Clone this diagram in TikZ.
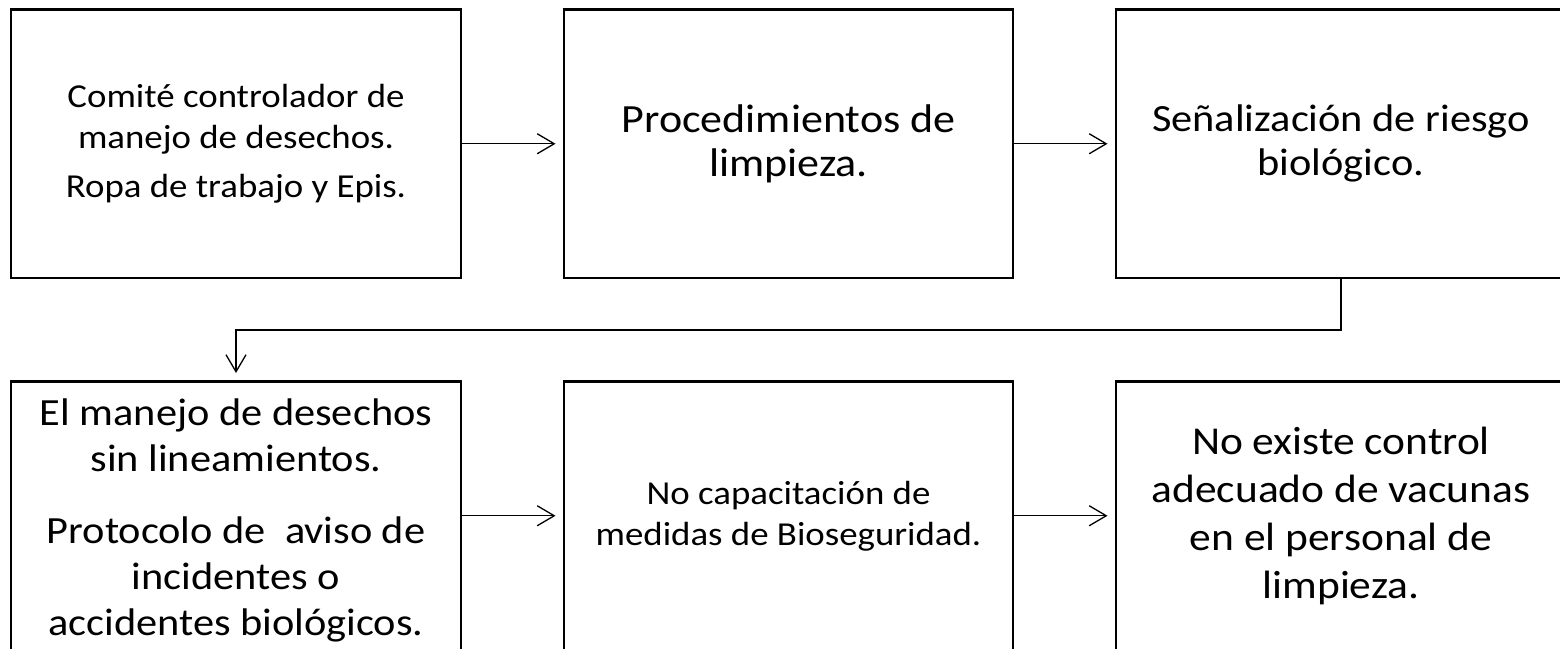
\documentclass[tikz,border=0pt]{standalone}
\usepackage{fontspec}
\setmainfont{Carlito}[FakeStretch=1.1]
\usetikzlibrary{arrows.meta}
\tikzset{
  boxnode/.style={draw=black, line width=2.7pt, rectangle, outer sep=0pt,
    inner sep=0pt, minimum height=268.5pt, align=center},
  smalltext/.style={font=\fontsize{33.5}{41}\selectfont},
  conn/.style={draw=black, line width=1.3pt,
    -{Straight Barb[length=17pt,width=20pt,line width=1.3pt]}, shorten >=8.5pt}
}
\begin{document}
\begin{tikzpicture}[x=1pt,y=-1pt]
\clip (0,0) rectangle (1560,648);
\fill[white] (0,0) rectangle (1560,648);
\node[boxnode, smalltext, minimum width=450pt] (b1) at (236,143.75)
  {Comité controlador de\\manejo de desechos.\\[8pt]Ropa de trabajo y Epis.};
\node[boxnode, font=\fontsize{40}{44}\selectfont, minimum width=449pt] (b2) at (788.5,143.75)
  {Procedimientos de\\limpieza.};
\node[boxnode, font=\fontsize{38.5}{44}\selectfont, minimum width=450pt] (b3) at (1341,143.75)
  {Señalización de riesgo\\biológico.};
\node[boxnode, font=\fontsize{38.5}{46}\selectfont, minimum width=450pt, minimum height=277pt] (b4) at (236,520)
  {El manejo de desechos\\sin lineamientos.\\[26pt]Protocolo de \ aviso de\\incidentes o\\accidentes biológicos.};
\node[boxnode, smalltext, minimum width=449pt] (b5) at (788.5,515.75)
  {No capacitación de\\medidas de Bioseguridad.};
\node[boxnode, font=\fontsize{39.5}{48}\selectfont, minimum width=450pt] (b6) at (1341,515.75)
  {No existe control\\adecuado de vacunas\\en el personal de\\limpieza.};
\draw[conn] (b1.east) -- (b2.west);
\draw[conn] (b2.east) -- (b3.west);
\draw[conn] (b3.south) -- ++(0,52) -| (b4.north);
\draw[conn] (b4.east |- b5.west) -- (b5.west);
\draw[conn] (b5.east) -- (b6.west);
\end{tikzpicture}
\end{document}
